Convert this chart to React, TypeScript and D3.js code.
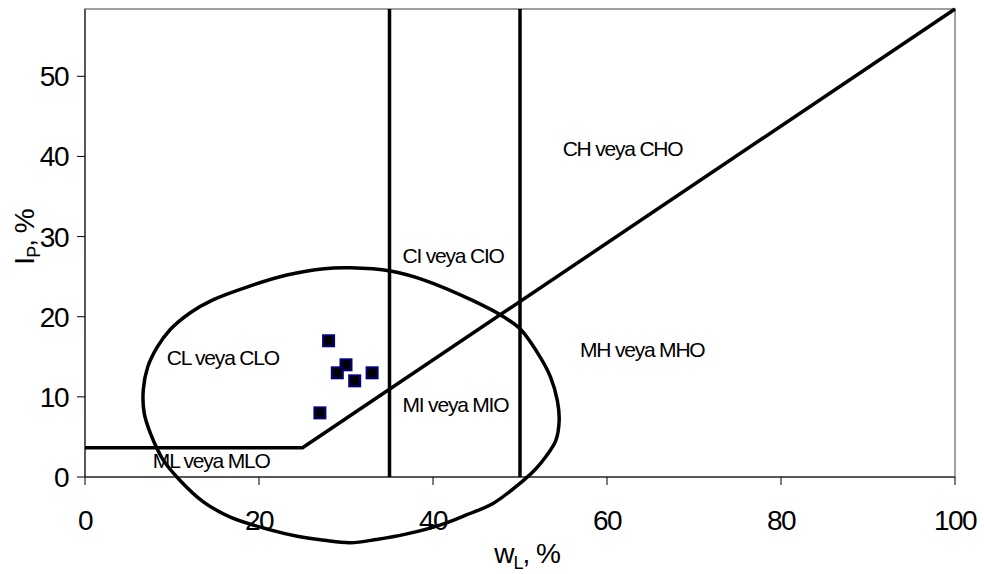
import React from "react";
import * as d3 from "d3";

// tick labels
const xTicks = [0, 20, 40, 60, 80, 100];
const yTicks = [0, 10, 20, 30, 40, 50];

// samples: liquid limit wL and plasticity index IP
const sampleLL = [28, 30, 29, 31, 33, 27];
const samplePI = [17, 14, 13, 12, 13, 8];

// A-line with its horizontal foot
const aLineLL = [0, 25, 100];
const aLinePI = [3.65, 3.65, 58.4];

// vertical limits on wL
const limitLL = [35, 50];

// hand drawn ring round the samples
const ringLL = [
  30.5, 35.1, 38.9, 44.6, 48.1, 50.0, 52.3, 53.5, 54.3, 54.5, 54.1, 53.0,
  51.8, 50.2, 46.9, 43.9, 40.8, 37.0, 33.5, 30.5, 27.5, 24.4, 21.3, 16.7,
  13.6, 10.9, 9.0, 7.5, 6.8, 6.7, 7.2, 8.3, 9.8, 12.1, 14.7, 18.6, 23.2,
  27.5,
];
const ringPI = [
  26.1, 25.7, 24.6, 22.0, 20.0, 18.5, 15.0, 12.5, 9.5, 7.0, 4.5, 2.6,
  1.0, -0.6, -3.3, -4.7, -6.0, -7.1, -7.8, -8.2, -7.9, -7.4, -6.6, -5.0,
  -3.1, -0.4, 2.1, 5.5, 8.0, 10.9, 13.7, 16.2, 18.4, 20.5, 22.1, 23.7,
  25.2, 26.0,
];

// zone names and where they sit (wL, IP of the text start)
const zoneNames = [
  "CH veya CHO",
  "MH veya MHO",
  "CI veya CIO",
  "MI veya MIO",
  "CL veya CLO",
  "ML veya MLO",
];
const zoneLL = [54.9, 56.9, 36.5, 36.5, 9.4, 7.8];
const zonePI = [40.0, 15.0, 26.7, 8.1, 14.0, 1.1];

const W = 984,
  H = 574;
const plot = { left: 85, right: 955, top: 9, bottom: 477 };

const x = d3.scaleLinear().domain([0, 100]).range([plot.left, plot.right]);
const y = d3.scaleLinear().domain([0, 58.4]).range([plot.bottom, plot.top]);

const font = "'Liberation Sans', Arial, sans-serif";

export default function App() {
  const aLine = d3
    .line<number>()
    .x((d, i) => x(aLineLL[i]))
    .y((d, i) => y(aLinePI[i]))(aLinePI);

  const ring = d3
    .line<number>()
    .x((d, i) => x(ringLL[i]))
    .y((d, i) => y(ringPI[i]))
    .curve(d3.curveCatmullRomClosed)(ringPI);

  const sq = 11;

  return (
    <svg
      width={W}
      height={H}
      style={{ position: "absolute", left: 0, top: 0, background: "#fff" }}
      fontFamily={font}
    >
      {/* plot frame */}
      <rect
        x={plot.left}
        y={plot.top}
        width={plot.right - plot.left}
        height={plot.bottom - plot.top}
        fill="#fff"
        stroke="#808080"
        strokeWidth={1.5}
      />
      <line x1={plot.left} x2={plot.left} y1={plot.top} y2={plot.bottom} stroke="#404040" strokeWidth={1.5} />
      <line x1={plot.left} x2={plot.right} y1={plot.bottom} y2={plot.bottom} stroke="#404040" strokeWidth={1.5} />

      {/* y axis */}
      {yTicks.map((t) => (
        <g key={"y" + t}>
          <line x1={plot.left - 8} x2={plot.left} y1={y(t)} y2={y(t)} stroke="#000" strokeWidth={1} />
          <text x={68} y={y(t) + 10} textAnchor="end" fontSize={28} letterSpacing={-1.5} fill="#000">
            {t}
          </text>
        </g>
      ))}

      {/* x axis */}
      {xTicks.map((t) => (
        <g key={"x" + t}>
          <line x1={x(t)} x2={x(t)} y1={plot.bottom} y2={plot.bottom + 8} stroke="#000" strokeWidth={1} />
          <text x={x(t)} y={530} textAnchor="middle" fontSize={28} letterSpacing={-1.5} fill="#000">
            {t}
          </text>
        </g>
      ))}

      {/* axis titles */}
      <text x={527} y={563} textAnchor="middle" fontSize={28} letterSpacing={-1} fill="#000">
        w<tspan fontSize={18} dy={6}>L</tspan>
        <tspan dy={-6}>, %</tspan>
      </text>
      <text
        transform={`translate(34,237) rotate(-90)`}
        textAnchor="middle"
        fontSize={28}
        letterSpacing={-1}
        fill="#000"
      >
        I<tspan fontSize={18} dy={6}>P</tspan>
        <tspan dy={-6}>, %</tspan>
      </text>

      {/* zone names */}
      {zoneNames.map((n, i) => (
        <text
          key={n}
          x={x(zoneLL[i])}
          y={y(zonePI[i])}
          fontSize={21}
          letterSpacing={-1.2}
          fill="#000"
        >
          {n}
        </text>
      ))}

      {/* classification lines */}
      {limitLL.map((v) => (
        <line key={"l" + v} x1={x(v)} x2={x(v)} y1={y(0)} y2={y(58.4)} stroke="#000" strokeWidth={3.5} />
      ))}
      <path d={aLine || ""} fill="none" stroke="#000" strokeWidth={3.5} strokeLinejoin="round" />
      <path d={ring || ""} fill="none" stroke="#000" strokeWidth={3.5} />

      {/* samples */}
      {sampleLL.map((v, i) => (
        <rect
          key={"s" + i}
          x={x(v) - sq / 2}
          y={y(samplePI[i]) - sq / 2}
          width={sq}
          height={sq}
          fill="#000"
          stroke="#000080"
          strokeWidth={2}
        />
      ))}
    </svg>
  );
}
